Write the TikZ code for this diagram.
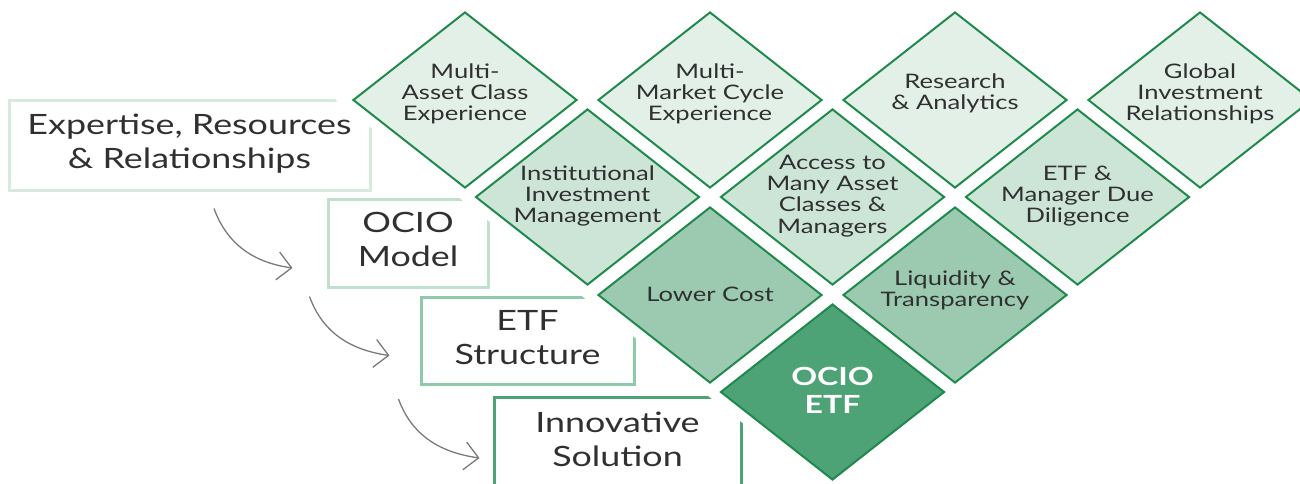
\documentclass[tikz,border=0pt]{standalone}
\usepackage{fontspec}
\setmainfont{Lato}
\usepackage{graphicx}
\usetikzlibrary{shapes.geometric,arrows.meta}

\definecolor{edgegreen}{HTML}{1F8A4C}
\definecolor{tileA}{HTML}{E3F0E8}
\definecolor{tileB}{HTML}{CDE5D7}
\definecolor{tileC}{HTML}{9CCAB1}
\definecolor{tileD}{HTML}{4DA276}
\definecolor{boxA}{HTML}{D6EBDE}
\definecolor{boxB}{HTML}{BFE0CD}
\definecolor{boxC}{HTML}{8ECAA9}
\definecolor{boxD}{HTML}{4DA276}
\definecolor{txt}{HTML}{303030}
\definecolor{arrowgray}{HTML}{7A7A7A}

% stretched multi-line text
\newcommand{\wide}[1]{\scalebox{1.28}[1]{\begin{tabular}{@{}c@{}}#1\end{tabular}}}

\tikzset{
  tile/.style={draw=edgegreen,line width=2pt,shape=diamond,minimum width=224pt,
    minimum height=176pt,inner sep=0pt,
    preaction={draw=white,line width=22pt,line join=miter}},
  tiletext/.style={text=txt,inner sep=0pt,font=\fontsize{20}{21.2}\selectfont},
  frame/.style={draw,line width=3pt,inner sep=0pt,text=txt,
    font=\fontsize{28}{34}\selectfont},
  flow/.style={draw=arrowgray,line width=1.3pt,
    -{Straight Barb[length=14pt,width=28pt]}}
}

\begin{document}
\begin{tikzpicture}[x=1pt,y=1pt]

    \useasboundingbox (0,0) rectangle (1300,-483);
    \clip (0,0) rectangle (1300,-483);

    % left boxes
    \node [frame,draw=boxA,minimum width=361pt,minimum height=90pt] (ex) at (189.5,-145) {\wide{Expertise, Resources\\\& Relationships}};
    \node [frame,draw=boxB,minimum width=160pt,minimum height=88pt] (om) at (408,-243) {\wide{OCIO\\Model}};
    \node [frame,draw=boxC,minimum width=213pt,minimum height=87pt] (es) at (527.5,-341) {\wide{ETF\\Structure}};
    \node [frame,draw=boxD,minimum width=247pt,minimum height=92pt] (is) at (617.5,-443) {\wide{Innovative\\Solution}};

    \draw [flow] ([xshift=24.5pt,yshift=-17pt]ex.south) to[out=-70,in=172] ([xshift=-34pt,yshift=-25pt]om.west);
    \draw [flow] ([xshift=-17pt,yshift=-8pt]om.south west) to[out=-70,in=172] ([xshift=-30pt,yshift=-14.5pt]es.west);
    \draw [flow] ([xshift=-21pt,yshift=-13pt]es.south west) to[out=-70,in=172] ([xshift=-13pt,yshift=-15pt]is.west);

    % diamonds
    \node [tile,fill=tileA] (d11) at (465,-100) {};
    \node [tile,fill=tileA] (d12) at (710,-100) {};
    \node [tile,fill=tileA] (d13) at (955,-100) {};
    \node [tile,fill=tileA] (d14) at (1200,-100) {};
    \node [tile,fill=tileB] (d21) at (587.5,-197) {};
    \node [tile,fill=tileB] (d22) at (832.5,-197) {};
    \node [tile,fill=tileB] (d23) at (1077.5,-197) {};
    \node [tile,fill=tileC] (d31) at (710,-295) {};
    \node [tile,fill=tileC] (d32) at (955,-295) {};
    \node [tile,fill=tileD] (d41) at (832.5,-392) {};

    \node [tiletext,yshift=5pt] at (d11) {\wide{Multi-\\Asset Class\\Experience}};
    \node [tiletext,yshift=5pt] at (d12) {\wide{Multi-\\Market Cycle\\Experience}};
    \node [tiletext,yshift=5pt] at (d13) {\wide{Research\\\& Analytics}};
    \node [tiletext,yshift=5pt] at (d14) {\wide{Global\\Investment\\Relationships}};
    \node [tiletext] at (d21) {\wide{Institutional\\Investment\\Management}};
    \node [tiletext] at (d22) {\wide{Access to\\Many Asset\\Classes \&\\Managers}};
    \node [tiletext] at (d23) {\wide{ETF \&\\Manager Due\\Diligence}};
    \node [tiletext,yshift=-2pt] at (d31) {\wide{Lower Cost}};
    \node [tiletext,yshift=3pt] at (d32) {\wide{Liquidity \&\\Transparency}};
    \node [tiletext,text=white,yshift=-2pt,font=\fontsize{25}{28}\bfseries] at (d41) {\wide{OCIO\\ETF}};

\end{tikzpicture}
\end{document}
